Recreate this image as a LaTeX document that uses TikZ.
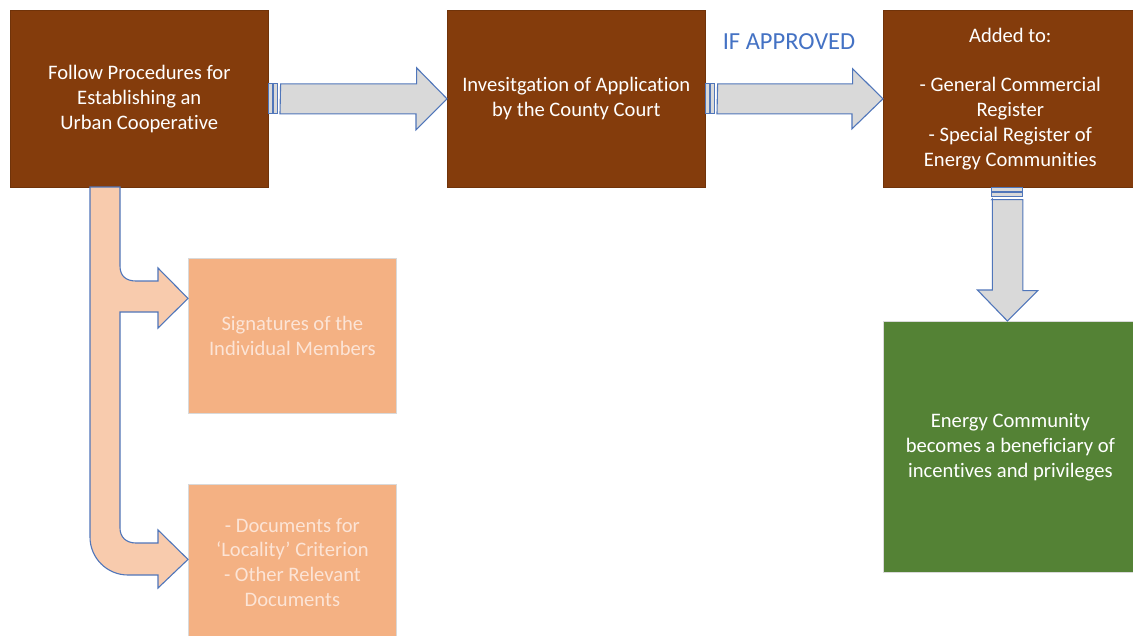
\documentclass[tikz,border=0pt]{standalone}
\usepackage{fontspec}
\setmainfont{Carlito}[Ligatures=NoCommon]
\begin{document}
\definecolor{brownbox}{HTML}{843C0C}
\definecolor{peachbox}{HTML}{F4B183}
\definecolor{peachtext}{HTML}{FCE4D6}
\definecolor{peacharrow}{HTML}{F8CBAD}
\definecolor{greenbox}{HTML}{548235}
\definecolor{arrowgray}{HTML}{D9D9D9}
\definecolor{arrowline}{HTML}{5076BA}
\definecolor{labelblue}{HTML}{4472C4}
\begin{tikzpicture}[x=1pt,y=-1pt,
  box/.style={anchor=north west,inner sep=0pt,align=center,text=white,
    font=\fontsize{20.6}{24.8}\selectfont},
  brownstep/.style={box,fill=brownbox,draw=brownbox!85!black,line width=0.6pt},
  peachstep/.style={box,fill=peachbox,draw=black!15,line width=0.8pt,text=peachtext},
  greenstep/.style={box,fill=greenbox,draw=black!15,line width=0.8pt},
  grayarrow/.style={fill=arrowgray,draw=arrowline,line width=1.1pt,line join=miter},
  peachpath/.style={fill=peacharrow,draw=arrowline,line width=1.1pt,line join=miter}]
\useasboundingbox (0,0) rectangle (1133,635);
\clip (0,0) rectangle (1133,635);
\fill[white] (0,0) rectangle (1133,635);

% process boxes
\node[brownstep,minimum width=258pt,minimum height=177pt] (follow) at (10,10)
  {Follow Procedures for\\Establishing an\\Urban Cooperative};
\node[brownstep,minimum width=258pt,minimum height=177pt] (court) at (447,10)
  {Invesitgation of Application\\by the County Court};
\node[brownstep,minimum width=254pt,minimum height=177pt] (register) at (883,10)
  {Added to:\\[24.8pt]- General Commercial\\Register\\- Special Register of\\Energy Communities};
\node[peachstep,minimum width=208pt,minimum height=155pt] (sign) at (188,258)
  {Signatures of the\\Individual Members};
\node[peachstep,minimum width=208pt,minimum height=156pt] (docs) at (188,484)
  {- Documents for\\‘Locality’ Criterion\\- Other Relevant\\Documents};
\node[greenstep,minimum width=254pt,minimum height=251pt] (benefit) at (883,321)
  {Energy Community\\becomes a beneficiary of\\incentives and privileges};

\node[text=labelblue,font=\fontsize{24.5}{28}\selectfont,inner sep=0pt] (approved) at (789,42) {IF APPROVED};

% striped block arrow: follow -> court
\draw[grayarrow] ([yshift=15pt]follow.east) rectangle ++(3.5,30);
\draw[grayarrow] ([xshift=5pt,yshift=15pt]follow.east) rectangle ++(4,30);
\draw[grayarrow] ([xshift=12pt,yshift=15pt]follow.east) -- ++(136,0) -- ++(0,-16)
  -- (court.west) -- ++(-31,31) -- ++(0,-16) -- ++(-136,0) -- cycle;

% striped block arrow: court -> register
\draw[grayarrow] ([yshift=15pt]court.east) rectangle ++(3.5,30);
\draw[grayarrow] ([xshift=5pt,yshift=15pt]court.east) rectangle ++(4,30);
\draw[grayarrow] ([xshift=12pt,yshift=15pt]court.east) -- ++(135,0) -- ++(0,-15)
  -- (register.west) -- ++(-31,30) -- ++(0,-15) -- ++(-135,0) -- cycle;

% striped block arrow: register -> benefit
\coordinate (dtop) at ([xshift=-3pt]register.south);
\coordinate (dtip) at ([xshift=-3pt]benefit.north);
\draw[grayarrow] ([xshift=-15.5pt]dtop) rectangle ++(31,3.5);
\draw[grayarrow] ([xshift=-15.5pt,yshift=-5pt]dtop) rectangle ++(31,4);
\draw[grayarrow] ([xshift=-15.5pt,yshift=-12pt]dtop) -- ++(31,0) -- ++(0,91) -- ++(15,0)
  -- (dtip) -- ++(-30,-31) -- ++(15,0) -- ++(0,-91) -- cycle;

% forked bent arrow from the first box to the two document boxes
\coordinate (sigtip) at ([yshift=37.5pt]sign.west);
\coordinate (doctip) at ([yshift=3pt]docs.west);
\draw[peachpath]
  (90,187) -- (120,187) -- (120,266)
  .. controls (120,276) and (126,281) .. (136,281)
  -- (158,281) -- (158,268) -- (sigtip) -- (158,328) -- (158,312) -- (120,312)
  -- (120,528) .. controls (120,537) and (126,543) .. (136,543)
  -- (158,543) -- (158,530) -- (doctip) -- (158,588) -- (158,575) -- (128,575)
  .. controls (107,575) and (90,558) .. (90,537) -- cycle;
\end{tikzpicture}
\end{document}
